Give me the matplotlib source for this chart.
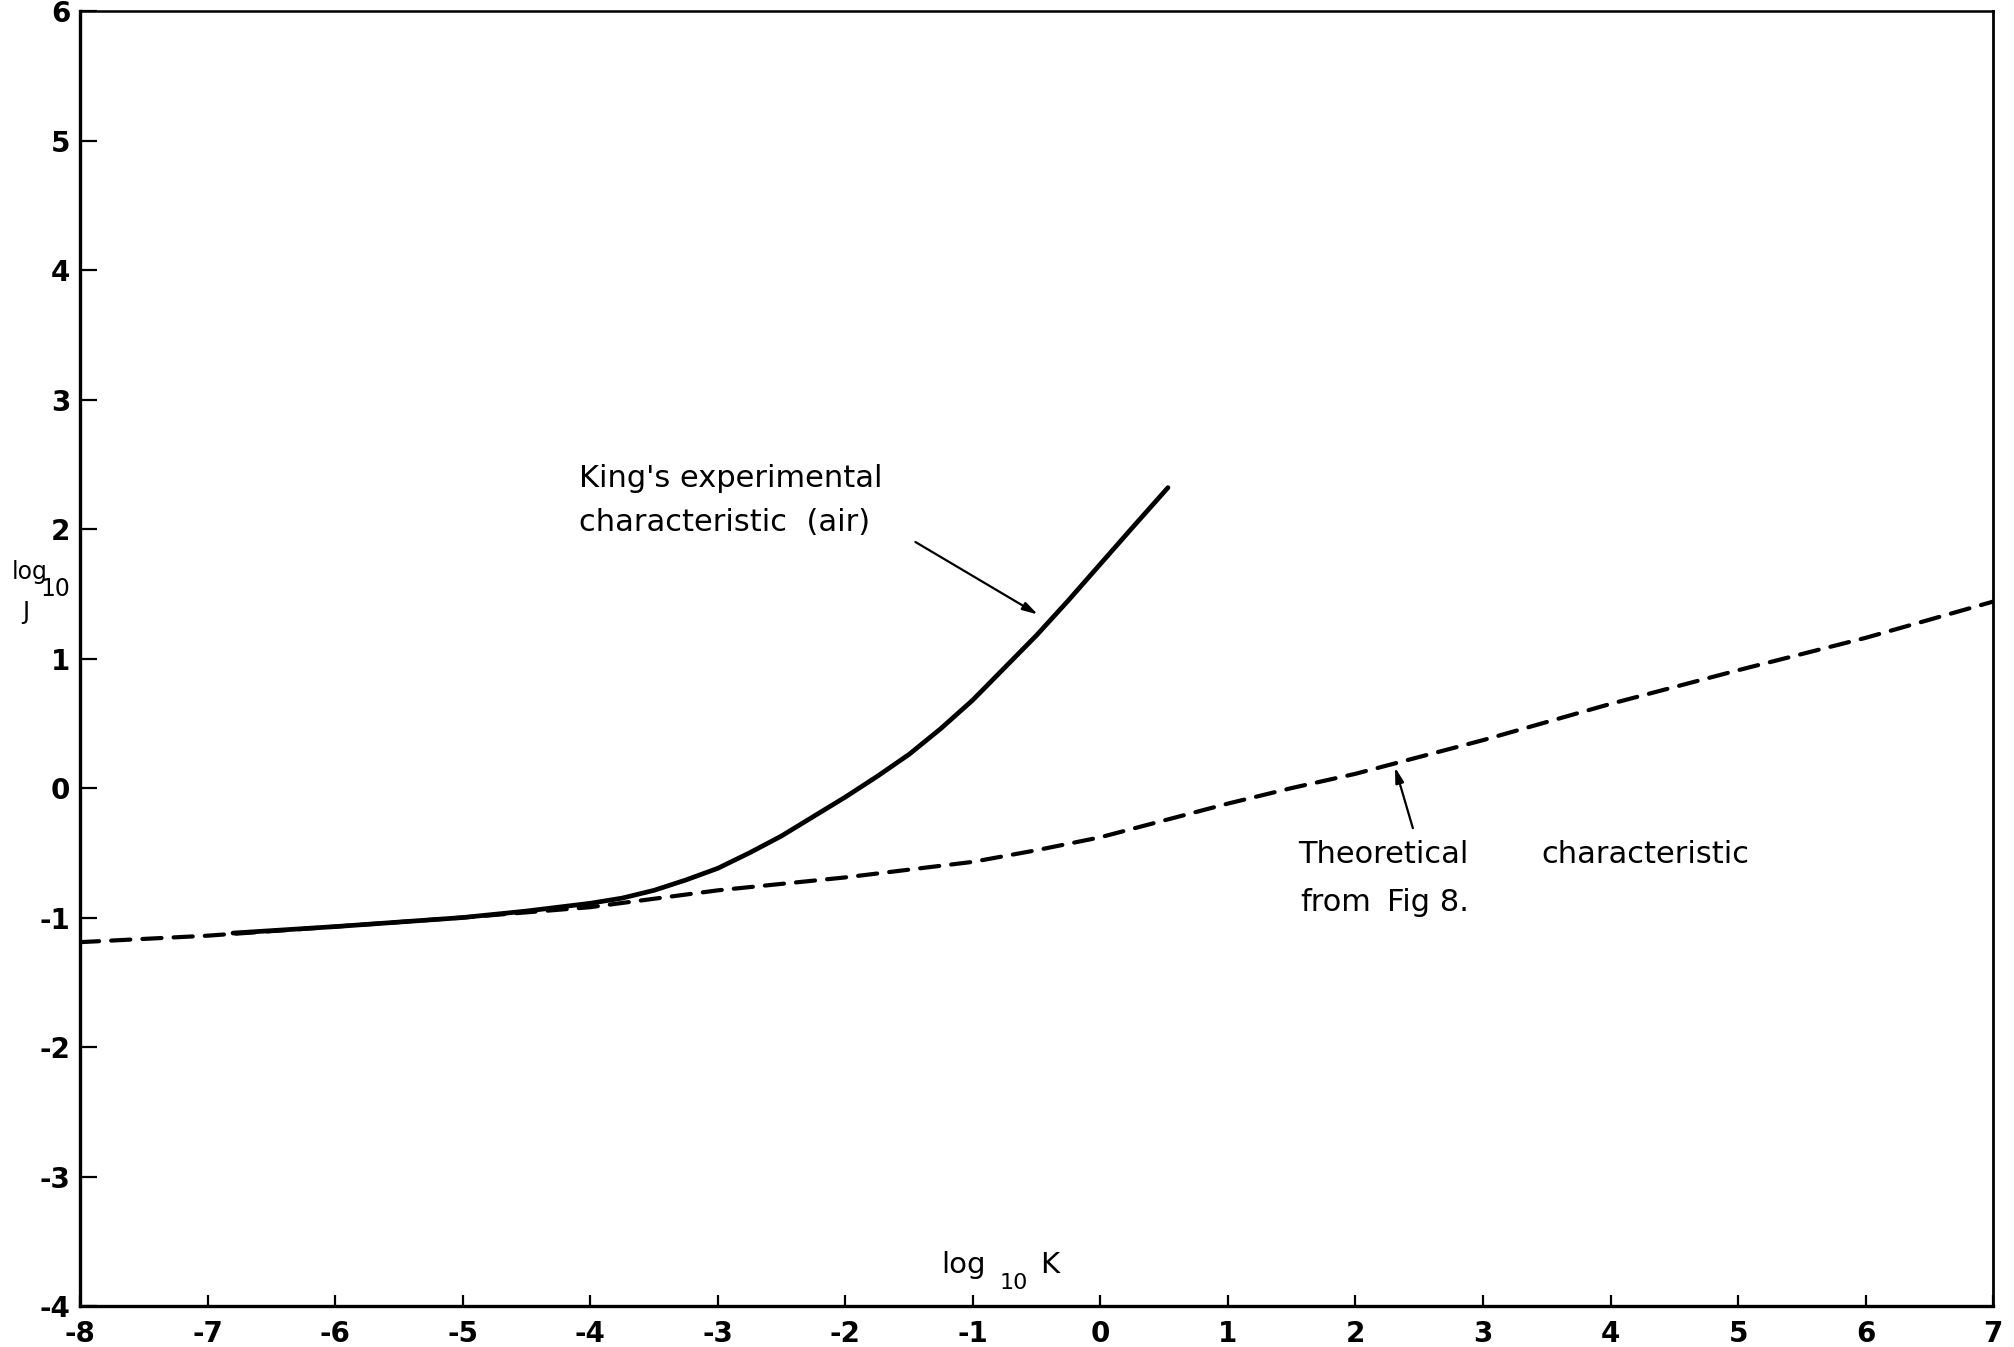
import matplotlib
matplotlib.use("Agg")
import matplotlib.pyplot as plt

# King's experimental characteristic (air), log10 K vs log10 J
king_x = [-6.8, -6.0, -5.0, -4.5, -4.0, -3.75, -3.5, -3.25, -3.0, -2.75, -2.5, -2.25, -2.0,
          -1.75, -1.5, -1.25, -1.0, -0.75, -0.5, -0.25, 0.0, 0.25, 0.53]
king_y = [-1.12, -1.07, -1.00, -0.95, -0.89, -0.85, -0.79, -0.71, -0.62, -0.50, -0.37, -0.22,
          -0.07, 0.09, 0.26, 0.46, 0.68, 0.93, 1.18, 1.45, 1.73, 2.01, 2.32]

# Theoretical characteristic from Fig 8
theo_x = [-8.0, -7.0, -6.0, -5.0, -4.0, -3.0, -2.0, -1.0, -0.5, 0.0, 0.5, 1.0, 1.5, 2.0, 3.0,
          4.0, 5.0, 6.0, 7.0]
theo_y = [-1.19, -1.14, -1.07, -1.00, -0.92, -0.79, -0.69, -0.57, -0.48, -0.38, -0.25, -0.12,
          0.00, 0.11, 0.37, 0.65, 0.91, 1.16, 1.44]

x_ticks = list(range(-8, 8))
y_ticks = list(range(-4, 7))

plt.rcParams["font.family"] = "DejaVu Sans"
plt.rcParams["axes.unicode_minus"] = False

fig = plt.figure(figsize=(20.14, 13.47), dpi=100)
ax = fig.add_axes([0.0397, 0.0304, 0.950, 0.9614])

ax.plot(theo_x, theo_y, color="black", lw=3.0, dashes=(4.6, 2.9), dash_capstyle="round")
ax.plot(king_x, king_y, color="black", lw=3.4, solid_capstyle="round", solid_joinstyle="round")

ax.set_xlim(-8, 7)
ax.set_ylim(-4, 6)
ax.set_xticks(x_ticks)
ax.set_xticklabels([str(v) for v in x_ticks], fontweight="bold")
ax.set_yticks(y_ticks)
ax.set_yticklabels([str(v) for v in y_ticks], fontweight="bold")
ax.tick_params(axis="x", direction="in", length=8, width=1.6, labelsize=20, pad=10)
ax.tick_params(axis="y", direction="in", length=12, width=1.6, labelsize=20, pad=7)

for side, lw in [("left", 2.4), ("bottom", 2.4), ("top", 1.8), ("right", 2.0)]:
    ax.spines[side].set_linewidth(lw)

arrow = dict(arrowstyle="-|>,head_length=0.9,head_width=0.25", color="black",
             lw=1.6, shrinkA=0, shrinkB=0)

# experimental curve label
ax.text(-4.09, 2.22, "King's experimental\ncharacteristic  (air)", fontsize=22,
        ha="left", va="center", linespacing=1.65)
ax.annotate("", xy=(-0.49, 1.34), xytext=(-1.45, 1.90), arrowprops=arrow)

# theoretical curve label
ax.annotate("", xy=(2.31, 0.16), xytext=(2.45, -0.31), arrowprops=arrow)
ax.text(1.55, -0.51, "Theoretical", fontsize=22, ha="left", va="center")
ax.text(3.46, -0.51, "characteristic", fontsize=22, ha="left", va="center")
ax.text(1.57, -0.88, "from", fontsize=22, ha="left", va="center")
ax.text(2.25, -0.88, "Fig 8.", fontsize=22, ha="left", va="center")

# axis titles
ax.text(-1.25, -3.68, "log", fontsize=21, ha="left", va="center")
ax.text(-0.79, -3.82, "10", fontsize=16, ha="left", va="center")
ax.text(-0.47, -3.68, "K", fontsize=21, ha="left", va="center")
fig.text(12 / 2014, 1 - 572 / 1347, "log", fontsize=17, ha="left", va="center")
fig.text(40 / 2014, 1 - 589 / 1347, "10", fontsize=17, ha="left", va="center")
fig.text(22 / 2014, 1 - 612 / 1347, "J", fontsize=17, ha="left", va="center")

fig.savefig("out.png", dpi=100, facecolor="white")
plt.close(fig)
